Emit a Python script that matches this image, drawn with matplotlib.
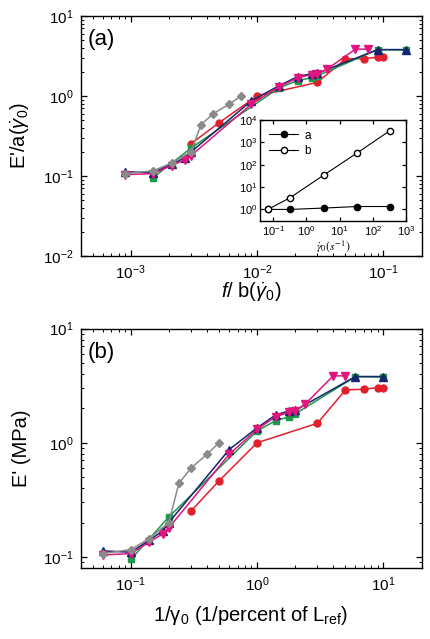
import matplotlib
matplotlib.use("Agg")
import matplotlib.pyplot as plt
from matplotlib.ticker import LogLocator, NullFormatter

plt.rcParams['font.family'] = ['Liberation Sans', 'DejaVu Sans']
plt.rcParams['mathtext.fontset'] = 'custom'
plt.rcParams['mathtext.rm'] = 'Liberation Sans'
plt.rcParams['mathtext.it'] = 'Liberation Sans:italic'
plt.rcParams['mathtext.bf'] = 'Liberation Sans:bold'

# panel (b): E' vs 1/gamma0
gray_x = [0.06, 0.1, 0.14, 0.2, 0.24, 0.3, 0.4, 0.5]
gray_y = [0.107, 0.116, 0.145, 0.2, 0.44, 0.6, 0.79, 1.0]
green_x = [0.1, 0.2, 1, 1.4, 1.8, 2, 6, 10]
green_y = [0.095, 0.224, 1.27, 1.56, 1.69, 1.79, 3.79, 3.75]
navy_x = [0.06, 0.1, 0.14, 0.18, 0.2, 0.6, 1, 1.4, 1.8, 2, 6, 10]
navy_y = [0.113, 0.11, 0.14, 0.17, 0.2, 0.87, 1.35, 1.75, 1.9, 1.92, 3.8, 3.8]
pink_x = [0.06, 0.1, 0.14, 0.18, 0.2, 0.6, 1, 1.4, 1.8, 2, 2.4, 4, 5]
pink_y = [0.104, 0.107, 0.135, 0.16, 0.18, 0.79, 1.31, 1.69, 1.85, 1.88, 2.18, 3.85, 3.85]
red_x = [0.3, 0.5, 1, 3, 5, 7, 9, 10]
red_y = [0.253, 0.464, 1.0, 1.48, 2.9, 2.94, 3.04, 3.04]

# panel (a): shifted x values, f/b
gray_xa = [9.0e-4, 1.5e-3, 2.1e-3, 3.0e-3, 3.6e-3, 4.5e-3, 6.0e-3, 7.5e-3]
green_xa = [1.5e-3, 3.0e-3, 1.5e-2, 2.1e-2, 2.7e-2, 3.0e-2, 9.0e-2, 0.15]
navy_xa = [9.0e-4, 1.5e-3, 2.1e-3, 2.7e-3, 3.0e-3, 9.0e-3, 1.5e-2, 2.1e-2,
           2.7e-2, 3.0e-2, 9.0e-2, 0.15]
pink_xa = [9.0e-4, 1.5e-3, 2.1e-3, 2.7e-3, 3.0e-3, 9.0e-3, 1.5e-2, 2.1e-2,
           2.7e-2, 3.0e-2, 3.6e-2, 6.0e-2, 7.5e-2]
red_xa = [3e-3, 5e-3, 1e-2, 3e-2, 5e-2, 7e-2, 9e-2, 0.1]

# inset: shift factors vs strain rate
rate = [0.07, 0.33, 3.3, 33, 330]
a_shift = [1.0, 1.0, 1.15, 1.35, 1.35]
b_shift = [1.0, 3.4, 34, 330, 3400]

styles = [
    ("red", "#e2202c", "o", 5.0),
    ("green", "#1b9a4b", "s", 4.8),
    ("navy", "#17256e", "^", 5.2),
    ("pink", "#e0157d", "v", 5.2),
    ("gray", "#8a8a8a", "D", 4.3),
]
series_b = {"red": (red_x, red_y), "green": (green_x, green_y), "navy": (navy_x, navy_y),
            "pink": (pink_x, pink_y), "gray": (gray_x, gray_y)}
series_a = {"red": (red_xa, red_y), "green": (green_xa, green_y), "navy": (navy_xa, navy_y),
            "pink": (pink_xa, pink_y), "gray": (gray_xa, gray_y)}


def style_axes(ax, size=11, minor=True):
    ax.set_xscale("log")
    ax.set_yscale("log")
    ax.tick_params(which="both", direction="in", top=True, right=True, labelsize=size)
    ax.tick_params(which="major", length=4, width=0.9, pad=5)
    ax.tick_params(which="minor", length=2.2, width=0.7)
    if not minor:
        ax.minorticks_off()
    else:
        ax.xaxis.set_minor_locator(LogLocator(base=10, subs=range(2, 10), numticks=20))
        ax.yaxis.set_minor_locator(LogLocator(base=10, subs=range(2, 10), numticks=20))
        ax.xaxis.set_minor_formatter(NullFormatter())
        ax.yaxis.set_minor_formatter(NullFormatter())
    for sp in ax.spines.values():
        sp.set_linewidth(1.0)


fig = plt.figure(figsize=(4.31, 6.39), dpi=100)

# ---- panel (a)
ax1 = fig.add_axes([0.1868, 0.5994, 0.7912, 0.3756])
for name, color, marker, ms in styles:
    x, y = series_a[name]
    ax1.plot(x, y, color=color, marker=marker, ms=ms, lw=1.1, mec=color)
style_axes(ax1)
ax1.set_xlim(4e-4, 0.2)
ax1.set_ylim(1e-2, 10)
ax1.xaxis.set_major_locator(LogLocator(base=10, numticks=10))
ax1.yaxis.set_major_locator(LogLocator(base=10, numticks=10))
ax1.text(0.022, 0.90, "(a)", transform=ax1.transAxes, fontsize=16, va="center")
ax1.set_xlabel(r"$f$/ b($\dot{\gamma}_0$)", fontsize=14.5)
ax1.set_ylabel(r"E'/a($\dot{\gamma}_0$)", fontsize=14.5)
ax1.xaxis.set_label_coords(0.5, -0.1)
ax1.yaxis.set_label_coords(-0.145, 0.5)

# ---- inset
axi = fig.add_axes([0.603, 0.654, 0.339, 0.158])
axi.plot(rate, a_shift, color="black", marker="o", ms=4.5, lw=0.8, label="a")
axi.plot(rate, b_shift, color="black", marker="o", ms=4.5, lw=0.8, mfc="white", label="b")
style_axes(axi, size=8, minor=False)
axi.set_xlim(0.04, 1000)
axi.set_ylim(0.3, 1e4)
axi.xaxis.set_major_locator(LogLocator(base=10, numticks=10))
axi.yaxis.set_major_locator(LogLocator(base=10, numticks=10))
axi.tick_params(which="major", length=3, pad=2)
axi.minorticks_off()
axi.legend(loc="upper left", frameon=False, fontsize=8.5, handlelength=2.4,
           borderaxespad=0.4, labelspacing=0.3, handletextpad=0.6)
axi.set_xlabel(r"$\dot{\gamma}_0(s^{-1})$", fontsize=8.5, math_fontfamily="stix", labelpad=0)

# ---- panel (b)
ax2 = fig.add_axes([0.1868, 0.1111, 0.7912, 0.3748])
for name, color, marker, ms in styles:
    x, y = series_b[name]
    ax2.plot(x, y, color=color, marker=marker, ms=ms, lw=1.1, mec=color)
style_axes(ax2)
ax2.set_xlim(0.04, 20)
ax2.set_ylim(0.08, 10)
ax2.xaxis.set_major_locator(LogLocator(base=10, numticks=10))
ax2.yaxis.set_major_locator(LogLocator(base=10, numticks=10))
ax2.text(0.022, 0.90, "(b)", transform=ax2.transAxes, fontsize=16, va="center")
ax2.set_xlabel(r"1/$\mathregular{\gamma_0}$ (1/percent of L$_\mathregular{ref}$)", fontsize=14.5)
ax2.set_ylabel("E' (MPa)", fontsize=14.5)
ax2.xaxis.set_label_coords(0.5, -0.15)
ax2.yaxis.set_label_coords(-0.145, 0.5)

fig.savefig("out.png", dpi=100)
